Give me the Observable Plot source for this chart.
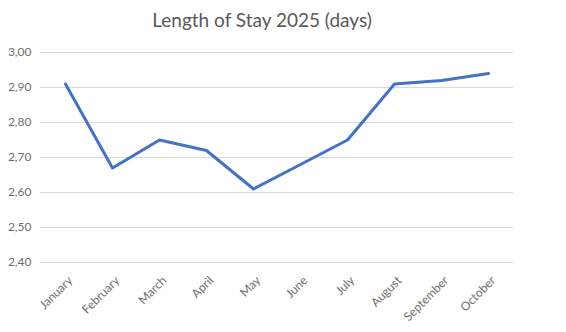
<!DOCTYPE html>
<html>
<head>
<meta charset="utf-8">
<script src="https://cdn.jsdelivr.net/npm/d3@7"></script>
<script src="https://cdn.jsdelivr.net/npm/@observablehq/plot@0.6"></script>
<style>
  body { margin: 0; background: #fff; }
  #wrap { width: 566px; height: 332px; position: relative; overflow: hidden; }
  #title { position: absolute; left: 0; top: 0; width: 524px; height: 40px; line-height: 40px; text-align: center;
           font-family: Lato, "Open Sans", sans-serif; font-size: 19px; color: #595959; }
  #chart { position: absolute; left: 0; top: 40px; }
</style>
</head>
<body>
<div id="wrap">
  <div id="title">Length of Stay 2025 (days)</div>
  <div id="chart"></div>
</div>
<script>
const months = ["January","February","March","April","May","June","July","August","September","October"];
const values = [2.91, 2.67, 2.75, 2.72, 2.61, 2.68, 2.75, 2.91, 2.92, 2.94];
const yTicks = [2.4, 2.5, 2.6, 2.7, 2.8, 2.9, 3.0];

const data = months.map((m, i) => ({month: m, value: values[i]}));
const fmt = d => d.toFixed(2).replace(".", ",");

const chart = Plot.plot({
  width: 566,
  height: 292,
  marginTop: 12,
  marginBottom: 70,
  marginLeft: 40,
  marginRight: 53,
  style: {fontFamily: "Lato, 'Open Sans', sans-serif", fontSize: "12px", color: "#666", background: "#fff"},
  x: {type: "point", domain: months, padding: 0.5},
  y: {domain: [2.4, 3.0]},
  marks: [
    Plot.gridY(yTicks, {stroke: "#d9d9d9", strokeOpacity: 1, strokeWidth: 1}),
    Plot.axisY({ticks: yTicks, tickFormat: fmt, tickSize: 0, tickPadding: 9, label: null, fill: "#6e6e6e"}),
    Plot.axisX({tickRotate: -45, tickSize: 0, tickPadding: 16, dx: 5, label: null, fill: "#6e6e6e"}),
    Plot.line(data, {x: "month", y: "value", stroke: "#4472C4", strokeWidth: 3, strokeLinejoin: "round"})
  ]
});
document.getElementById("chart").appendChild(chart);
</script>
</body>
</html>
